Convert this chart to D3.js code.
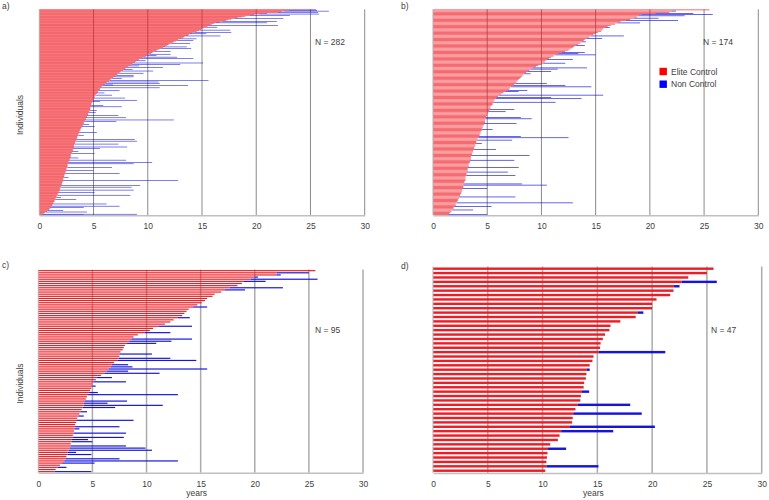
<!DOCTYPE html>
<html>
<head>
<meta charset="utf-8">
<script src="https://cdn.jsdelivr.net/npm/d3@7"></script>
<style>
  html, body { margin: 0; padding: 0; background: #fff; }
  svg { display: block; font-family: 'Liberation Sans', Arial, sans-serif; }
</style>
</head>
<body>
<div id="chart"></div>
<script>
// x axis ticks (years)
const ticks = [0, 5, 10, 15, 20, 25, 30];

// a) all individuals, elite control years (sorted), non control end as [row, years]
const eliteA = [
  25.5, 23.0, 22.6, 22.3, 22.0, 21.0, 20.3, 19.8, 19.4, 19.0,
  18.7, 18.3, 18.0, 17.7, 17.4, 17.2, 16.9, 16.6, 16.3, 16.1,
  15.9, 15.7, 15.6, 15.5, 15.3, 15.2, 15.0, 14.9, 14.8, 14.7,
  14.5, 14.3, 14.1, 13.9, 13.8, 13.7, 13.5, 13.4, 13.3, 13.1,
  13.0, 12.8, 12.7, 12.6, 12.4, 12.3, 12.2, 12.0, 11.9, 11.8,
  11.6, 11.5, 11.4, 11.2, 11.1, 10.9, 10.8, 10.6, 10.5, 10.4,
  10.3, 10.2, 10.0, 9.9, 9.8, 9.6, 9.5, 9.4, 9.2, 9.1,
  9.0, 8.9, 8.8, 8.7, 8.6, 8.5, 8.4, 8.3, 8.2, 8.1,
  8.0, 7.9, 7.8, 7.7, 7.6, 7.5, 7.4, 7.3, 7.2, 7.2,
  7.1, 7.0, 6.9, 6.8, 6.7, 6.6, 6.5, 6.5, 6.4, 6.3,
  6.2, 6.1, 6.0, 5.9, 5.9, 5.8, 5.7, 5.7, 5.6, 5.6,
  5.5, 5.5, 5.4, 5.4, 5.3, 5.3, 5.2, 5.2, 5.1, 5.1,
  5.1, 5.0, 5.0, 5.0, 4.9, 4.9, 4.9, 4.9, 4.8, 4.8,
  4.8, 4.8, 4.8, 4.8, 4.7, 4.7, 4.7, 4.7, 4.7, 4.6,
  4.6, 4.6, 4.5, 4.5, 4.5, 4.4, 4.4, 4.4, 4.3, 4.3,
  4.3, 4.2, 4.2, 4.2, 4.1, 4.1, 4.1, 4.0, 4.0, 4.0,
  3.9, 3.9, 3.9, 3.8, 3.8, 3.8, 3.7, 3.7, 3.7, 3.7,
  3.6, 3.6, 3.6, 3.5, 3.5, 3.5, 3.5, 3.4, 3.4, 3.4,
  3.4, 3.3, 3.3, 3.3, 3.3, 3.2, 3.2, 3.2, 3.2, 3.2,
  3.1, 3.1, 3.1, 3.1, 3.0, 3.0, 3.0, 3.0, 2.9, 2.9,
  2.9, 2.9, 2.9, 2.8, 2.8, 2.8, 2.8, 2.8, 2.7, 2.7,
  2.7, 2.7, 2.6, 2.6, 2.6, 2.6, 2.6, 2.5, 2.5, 2.5,
  2.5, 2.5, 2.4, 2.4, 2.4, 2.4, 2.3, 2.3, 2.3, 2.3,
  2.3, 2.2, 2.2, 2.2, 2.2, 2.2, 2.1, 2.1, 2.1, 2.1,
  2.0, 2.0, 2.0, 2.0, 1.9, 1.9, 1.9, 1.9, 1.9, 1.8,
  1.8, 1.8, 1.7, 1.7, 1.7, 1.6, 1.6, 1.6, 1.5, 1.5,
  1.5, 1.4, 1.4, 1.4, 1.3, 1.3, 1.3, 1.2, 1.2, 1.1,
  1.1, 1.0, 1.0, 0.9, 0.9, 0.8, 0.7, 0.6, 0.5, 0.4,
  0.3, 0.2
];
const nonA = [
  [1, 25.6], [2, 26.7], [4, 25.7], [6, 25.8], [8, 23.1], [12, 22.5], [16, 21.9],
  [18, 21.0], [22, 22.0], [24, 16.4], [28, 17.6], [31, 17.7], [33, 15.4], [36, 16.7],
  [40, 14.5], [42, 14.2], [46, 13.9], [51, 13.6], [53, 14.0], [57, 12.1], [61, 12.1],
  [63, 10.8], [65, 12.7], [67, 14.2], [70, 9.8], [73, 15.1], [75, 13.0], [77, 9.2],
  [79, 11.4], [82, 8.6], [84, 10.5], [87, 9.6], [90, 8.7], [92, 8.7], [94, 7.6],
  [97, 15.6], [99, 11.0], [101, 11.1], [103, 6.8], [104, 13.7], [107, 11.1], [111, 7.4],
  [114, 6.0], [117, 6.7], [121, 7.9], [124, 9.0], [126, 5.6], [131, 5.9], [133, 7.6],
  [138, 5.3], [141, 5.2], [145, 7.3], [148, 8.0], [151, 12.4], [153, 7.1], [157, 4.6],
  [160, 5.1], [168, 5.3], [172, 4.1], [178, 8.8], [180, 9.0], [184, 7.3], [188, 8.1],
  [190, 5.6], [194, 3.6], [197, 5.1], [203, 3.6], [206, 8.0], [209, 10.4], [211, 8.7],
  [216, 6.7], [220, 5.0], [224, 7.4], [230, 2.7], [234, 12.8], [241, 9.3], [243, 8.5],
  [247, 8.7], [250, 5.1], [254, 8.4], [257, 2.0], [260, 3.4], [266, 6.2], [269, 7.4],
  [271, 4.1], [275, 2.2], [277, 4.4], [280, 9.0], [281, 4.1]
];

// b)
const eliteB = [
  25.5, 22.0, 21.8, 20.5, 19.2, 19.0, 18.8, 18.5, 18.2, 17.8,
  17.3, 17.0, 16.8, 16.4, 16.1, 15.9, 15.7, 15.6, 15.5, 15.2,
  15.0, 14.8, 14.6, 14.4, 14.2, 14.0, 13.9, 13.7, 13.6, 13.4,
  13.2, 13.0, 12.9, 12.7, 12.5, 12.2, 11.9, 11.6, 11.3, 11.1,
  10.9, 10.7, 10.5, 10.4, 10.3, 10.2, 10.0, 9.7, 9.5, 9.2,
  9.0, 8.9, 8.7, 8.6, 8.4, 8.3, 8.2, 8.1, 8.0, 7.9,
  7.8, 7.7, 7.6, 7.5, 7.4, 7.2, 7.1, 7.0, 6.9, 6.7,
  6.5, 6.3, 6.1, 6.0, 5.9, 5.8, 5.7, 5.6, 5.6, 5.5,
  5.5, 5.4, 5.3, 5.3, 5.2, 5.2, 5.1, 5.1, 5.0, 5.0,
  4.9, 4.9, 4.9, 4.8, 4.8, 4.8, 4.7, 4.7, 4.6, 4.6,
  4.5, 4.5, 4.5, 4.4, 4.4, 4.3, 4.3, 4.2, 4.2, 4.1,
  4.1, 4.0, 4.0, 4.0, 3.9, 3.9, 3.8, 3.8, 3.8, 3.7,
  3.7, 3.6, 3.6, 3.6, 3.5, 3.5, 3.5, 3.4, 3.4, 3.4,
  3.3, 3.3, 3.3, 3.2, 3.2, 3.2, 3.2, 3.1, 3.1, 3.1,
  3.1, 3.0, 3.0, 3.0, 3.0, 2.9, 2.9, 2.9, 2.8, 2.8,
  2.8, 2.7, 2.7, 2.7, 2.6, 2.6, 2.5, 2.5, 2.4, 2.4,
  2.3, 2.3, 2.2, 2.2, 2.1, 2.1, 2.0, 1.9, 1.9, 1.8,
  1.7, 1.6, 1.5, 1.4
];
const nonB = [
  [1, 22.4], [3, 24.0], [4, 25.8], [5, 23.2], [7, 20.8], [9, 22.6], [11, 19.1],
  [15, 16.3], [22, 17.6], [24, 15.6], [27, 14.1], [30, 14.0], [36, 14.0], [37, 13.4],
  [38, 15.0], [42, 12.9], [45, 12.2], [49, 14.2], [50, 11.5], [52, 10.9], [54, 9.0],
  [62, 10.5], [64, 12.2], [65, 14.6], [68, 8.7], [69, 7.9], [72, 15.7], [74, 10.9],
  [75, 13.7], [78, 11.3], [84, 7.5], [86, 6.7], [91, 8.1], [92, 9.1], [96, 7.7],
  [101, 5.5], [107, 8.1], [108, 12.5], [110, 7.3], [113, 4.5], [118, 5.8], [123, 8.9],
  [127, 7.5], [133, 7.9], [137, 6.9], [140, 7.6], [147, 8.2], [148, 10.5], [151, 5.0],
  [158, 7.6], [163, 12.9], [166, 5.4], [169, 3.7], [173, 5.0]
];

// c)
const eliteC = [
  25.6, 22.0, 22.0, 20.0, 19.6, 19.0, 18.8, 18.4, 17.7, 17.2,
  16.9, 16.3, 16.1, 15.6, 15.4, 15.1, 14.7, 14.3, 13.9, 13.7,
  13.5, 13.3, 12.9, 12.5, 12.2, 11.7, 11.1, 10.6, 10.3, 9.8,
  9.2, 8.8, 8.6, 8.4, 8.2, 8.0, 7.9, 7.8, 7.6, 7.5,
  7.5, 7.4, 7.3, 7.0, 6.8, 6.7, 6.5, 6.3, 6.1, 5.8,
  5.4, 5.2, 5.1, 5.0, 5.0, 4.9, 4.8, 4.7, 4.6, 4.5,
  4.4, 4.3, 4.2, 4.2, 4.1, 4.0, 3.9, 3.8, 3.7, 3.6,
  3.5, 3.5, 3.4, 3.4, 3.4, 3.3, 3.3, 3.2, 3.2, 3.1,
  3.1, 3.0, 3.0, 2.9, 2.8, 2.7, 2.7, 2.6, 2.5, 2.4,
  2.2, 2.0, 1.8, 1.6, 1.5
];
const nonC = [
  [1, 25.0], [2, 22.4], [3, 20.3], [4, 25.8], [5, 21.0], [8, 22.6], [9, 19.1],
  [17, 15.6], [22, 14.0], [26, 14.2], [29, 12.2], [32, 14.2], [33, 12.3], [34, 10.9],
  [39, 10.5], [41, 12.2], [42, 14.6], [44, 8.3], [45, 8.7], [46, 15.6], [47, 8.3],
  [48, 11.2], [50, 6.8], [51, 5.3], [52, 8.1], [54, 5.3], [57, 5.5], [58, 12.9],
  [61, 8.2], [62, 6.4], [63, 11.5], [64, 7.1], [66, 4.5], [68, 4.2], [70, 8.8],
  [73, 7.5], [74, 3.8], [76, 8.1], [78, 7.9], [79, 4.6], [80, 5.0], [82, 8.1],
  [83, 9.9], [84, 10.5], [85, 3.5], [86, 4.9], [88, 7.5], [89, 12.9], [90, 5.2],
  [92, 2.6], [94, 4.9]
];

// d)
const eliteD = [
  25.6, 25.0, 23.3, 22.7, 22.0, 21.95, 21.65, 20.4, 20.0, 20.0,
  18.7, 18.5, 17.1, 16.2, 16.1, 15.7, 15.5, 15.3, 15.25, 15.1,
  14.65, 14.55, 14.3, 14.05, 14.0, 13.95, 13.8, 13.75, 13.6, 13.5,
  13.45, 13.2, 13.0, 12.8, 12.75, 12.7, 12.5, 11.7, 11.55, 11.4,
  10.7, 10.5, 10.45, 10.4, 10.35, 10.35, 10.25
];
const nonD = [
  [3, 25.9], [4, 22.5], [10, 19.2], [19, 21.2], [23, 14.3], [28, 14.25],
  [31, 18.0], [33, 19.05], [36, 20.25], [37, 16.45], [41, 12.15], [45, 15.1]
];

const legendItems = ['Elite Control', 'Non Control'];

const RED = '#ee1c24';
const BLUE = '#1414dc';
const TXT = '#404040';

const panels = [
  {tag: 'a)', n: 'N = 282', elite: eliteA, non: nonA, xr: [39.3, 364.7], yr: [9.3, 215.3],
   pad: 0.25, grid: '#8a8a8a', gw: 1, tagPos: [2, 9], nPos: [315, 45], yTitle: 115, xTitle: false},
  {tag: 'b)', n: 'N = 174', elite: eliteB, non: nonB, xr: [433, 758.3], yr: [9.3, 215.3],
   pad: 0.45, grid: '#8a8a8a', gw: 1, tagPos: [401, 9], nPos: [703, 45], yTitle: null, xTitle: false},
  {tag: 'c)', n: 'N = 95', elite: eliteC, non: nonC, xr: [38.3, 363], yr: [269.6, 472.7],
   pad: 0.45, grid: '#ababab', gw: 1.5, tagPos: [2, 268], nPos: [315, 333], yTitle: 383.5, xTitle: true},
  {tag: 'd)', n: 'N = 47', elite: eliteD, non: nonD, xr: [433, 761.7], yr: [266.5, 472.9],
   pad: 0.45, grid: '#ababab', gw: 1.5, tagPos: [401, 269], nPos: [711, 333], yTitle: null, xTitle: true}
];

const svg = d3.select('#chart').append('svg')
    .attr('width', 769)
    .attr('height', 500);

svg.append('rect').attr('width', 769).attr('height', 500).attr('fill', '#fff');

const drawPanel = (p) => {
  const g = svg.append('g');
  const x = d3.scaleLinear().domain([0, 30]).range(p.xr);
  const y = d3.scaleBand()
      .domain(d3.range(p.elite.length))
      .range(p.yr)
      .paddingInner(p.pad)
      .paddingOuter(p.pad / 2);

  // vertical gridlines
  g.append('g').selectAll('line')
      .data(ticks.slice(1))
      .join('line')
      .attr('x1', (d) => x(d)).attr('x2', (d) => x(d))
      .attr('y1', p.yr[0]).attr('y2', p.yr[1])
      .attr('stroke', p.grid)
      .attr('stroke-width', p.gw);

  // elite control bars
  g.append('g').selectAll('rect')
      .data(p.elite)
      .join('rect')
      .attr('x', x(0))
      .attr('y', (d, i) => y(i))
      .attr('width', (d) => x(d) - x(0))
      .attr('height', y.bandwidth())
      .attr('fill', RED);

  // non control extension
  g.append('g').selectAll('rect')
      .data(p.non)
      .join('rect')
      .attr('x', (d) => x(p.elite[d[0]]))
      .attr('y', (d) => y(d[0]))
      .attr('width', (d) => x(d[1]) - x(p.elite[d[0]]))
      .attr('height', y.bandwidth())
      .attr('fill', BLUE);

  // left axis line
  g.append('line')
      .attr('x1', x(0)).attr('x2', x(0))
      .attr('y1', p.yr[0]).attr('y2', p.yr[1])
      .attr('stroke', '#b0b0b0').attr('stroke-width', 1);

  // bottom axis
  const axis = d3.axisBottom(x).tickValues(ticks).tickSize(0).tickPadding(8);
  const ax = g.append('g')
      .attr('transform', `translate(0,${p.yr[1]})`)
      .call(axis);
  ax.select('.domain').attr('stroke', '#c0c0c0').attr('stroke-width', 1.5);
  ax.selectAll('text')
      .attr('font-family', 'Liberation Sans, Arial, sans-serif')
      .attr('font-size', 8.5)
      .attr('fill', TXT);

  g.append('text')
      .attr('x', p.tagPos[0]).attr('y', p.tagPos[1])
      .attr('font-size', 8.5).attr('fill', TXT)
      .text(p.tag);

  g.append('text')
      .attr('x', p.nPos[0]).attr('y', p.nPos[1])
      .attr('font-size', 8.5).attr('fill', TXT)
      .text(p.n);

  if (p.yTitle) {
    g.append('text')
        .attr('transform', `translate(23.4,${p.yTitle}) rotate(-90)`)
        .attr('text-anchor', 'middle')
        .attr('font-size', 8.5).attr('fill', TXT)
        .text('Individuals');
  }
  if (p.xTitle) {
    g.append('text')
        .attr('x', (p.xr[0] + p.xr[1]) / 2 - 4).attr('y', 496)
        .attr('text-anchor', 'middle')
        .attr('font-size', 8.5).attr('fill', TXT)
        .text('years');
  }
};

panels.forEach(drawPanel);

// legend (panel b)
const legend = svg.append('g').attr('transform', 'translate(659.5,67.8)');
const lg = legend.selectAll('g')
    .data(legendItems)
    .join('g')
    .attr('transform', (d, i) => `translate(0,${i * 12.7})`);
lg.append('rect')
    .attr('width', 7.4).attr('height', 7.4)
    .attr('fill', (d, i) => i === 0 ? '#ff0000' : '#0000ff');
lg.append('text')
    .attr('x', 11.5).attr('y', 6.7)
    .attr('font-size', 8.5).attr('fill', TXT)
    .text((d) => d);
</script>
</body>
</html>
